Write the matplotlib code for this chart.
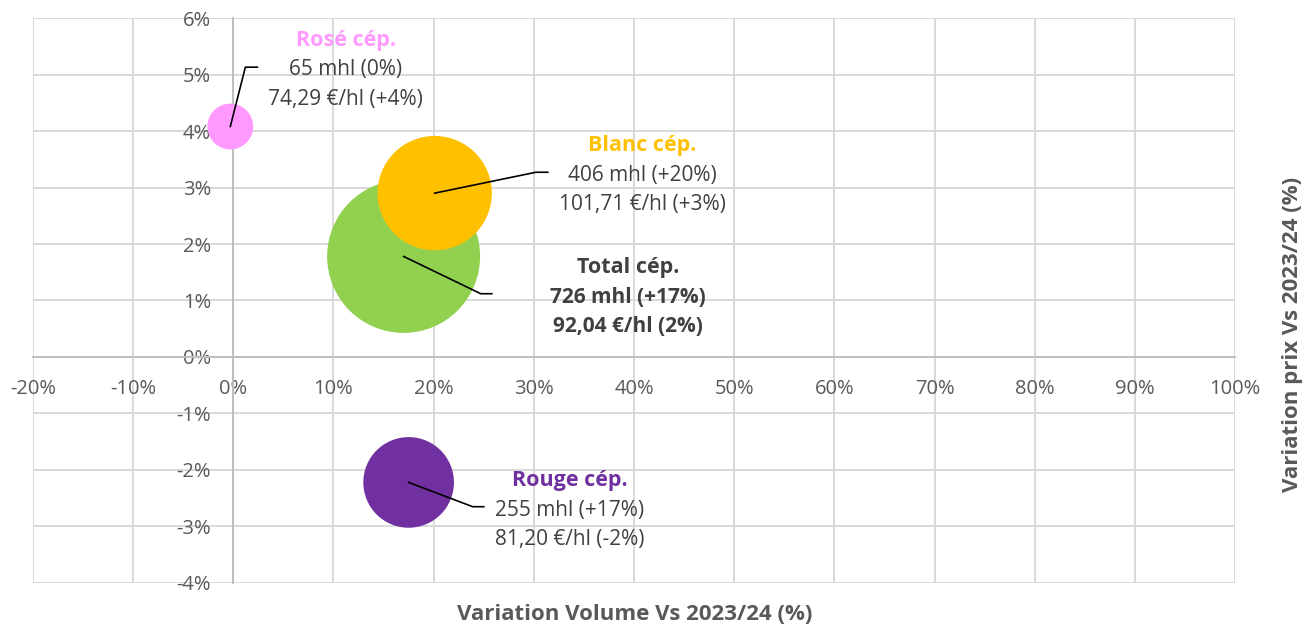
import matplotlib
matplotlib.use("Agg")
import matplotlib.pyplot as plt
from matplotlib.ticker import FuncFormatter, MultipleLocator

plt.rcParams['font.family'] = ['Open Sans', 'DejaVu Sans']

# donnees
noms = ['Rosé cép.', 'Total cép.', 'Blanc cép.', 'Rouge cép.']
var_volume = [-0.003, 0.170, 0.201, 0.175]
var_prix = [0.0408, 0.0178, 0.0290, -0.0222]
volumes = [65, 726, 406, 255]
ligne_vol = ['65 mhl (0%)', '726 mhl (+17%)', '406 mhl (+20%)', '255 mhl (+17%)']
ligne_prix = ['74,29 €/hl (+4%)', '92,04 €/hl (2%)', '101,71 €/hl (+3%)', '81,20 €/hl (-2%)']
couleurs = ['#FF99FF', '#92D050', '#FFC000', '#7030A0']

# position des etiquettes (centre de la ligne du milieu) et coude des traits
pos_etiq = [(0.112, 0.0508), (0.394, 0.0106), (0.408, 0.0322), (0.336, -0.0271)]
coude = [(0.012, 0.0513), (0.247, 0.0112), (0.302, 0.0327), (0.239, -0.0265)]
fin = [(0.024, 0.0513), (0.258, 0.0112), (0.314, 0.0327), (0.250, -0.0265)]

fig = plt.figure(figsize=(13.04, 6.28), dpi=100)
ax = fig.add_axes([0.0253, 0.0717, 0.9218, 0.8996])

ax.set_xlim(-0.2, 1.0)
ax.set_ylim(-0.04, 0.06)
ax.xaxis.set_major_locator(MultipleLocator(0.1))
ax.yaxis.set_major_locator(MultipleLocator(0.01))
ax.xaxis.set_major_formatter(FuncFormatter(lambda v, p: '{:.0f}%'.format(round(v * 100))))
ax.yaxis.set_major_formatter(FuncFormatter(lambda v, p: '{:.0f}%'.format(round(v * 100))))
ax.grid(True, color='#D9D9D9', linewidth=1.4, zorder=0)
ax.set_axisbelow(True)

for s in ['top', 'right']:
    ax.spines[s].set_visible(False)
ax.spines['left'].set_position(('data', 0))
ax.spines['bottom'].set_position(('data', 0))
ax.spines['left'].set_color('#BFBFBF')
ax.spines['bottom'].set_color('#BFBFBF')
ax.spines['left'].set_linewidth(1.4)
ax.spines['bottom'].set_linewidth(1.4)
ax.tick_params(axis='both', length=0, labelsize=14.5, labelcolor='#595959')
ax.tick_params(axis='y', pad=16)
ax.tick_params(axis='x', pad=16)

# bulles : aire proportionnelle au volume
for i in range(len(noms)):
    ax.scatter(var_volume[i], var_prix[i], s=16.7 * volumes[i], color=couleurs[i],
               edgecolors='none', zorder=3)

for i in range(len(noms)):
    ax.plot([var_volume[i], coude[i][0], fin[i][0]],
            [var_prix[i], coude[i][1], fin[i][1]], color='black', linewidth=1.2, zorder=4)
    x, y = pos_etiq[i]
    gras = 'bold' if noms[i] == 'Total cép.' else 'normal'
    titre_coul = '#404040' if noms[i] == 'Total cép.' else couleurs[i]
    ax.text(x, y + 0.0053, noms[i], ha='center', va='center', fontsize=15.5,
            fontweight='bold', color=titre_coul, zorder=5)
    ax.text(x, y, ligne_vol[i], ha='center', va='center', fontsize=15,
            fontweight=gras, color='#404040', zorder=5)
    ax.text(x, y - 0.0052, ligne_prix[i], ha='center', va='center', fontsize=15,
            fontweight=gras, color='#404040', zorder=5)

fig.text(0.487, 0.021, 'Variation Volume Vs 2023/24 (%)', ha='center', va='center',
         fontsize=16, fontweight='bold', color='#595959')
fig.text(0.9915, 0.467, 'Variation prix Vs 2023/24 (%)', ha='center', va='center',
         rotation=90, fontsize=16, fontweight='bold', color='#595959')

fig.savefig('out.png', dpi=100)
